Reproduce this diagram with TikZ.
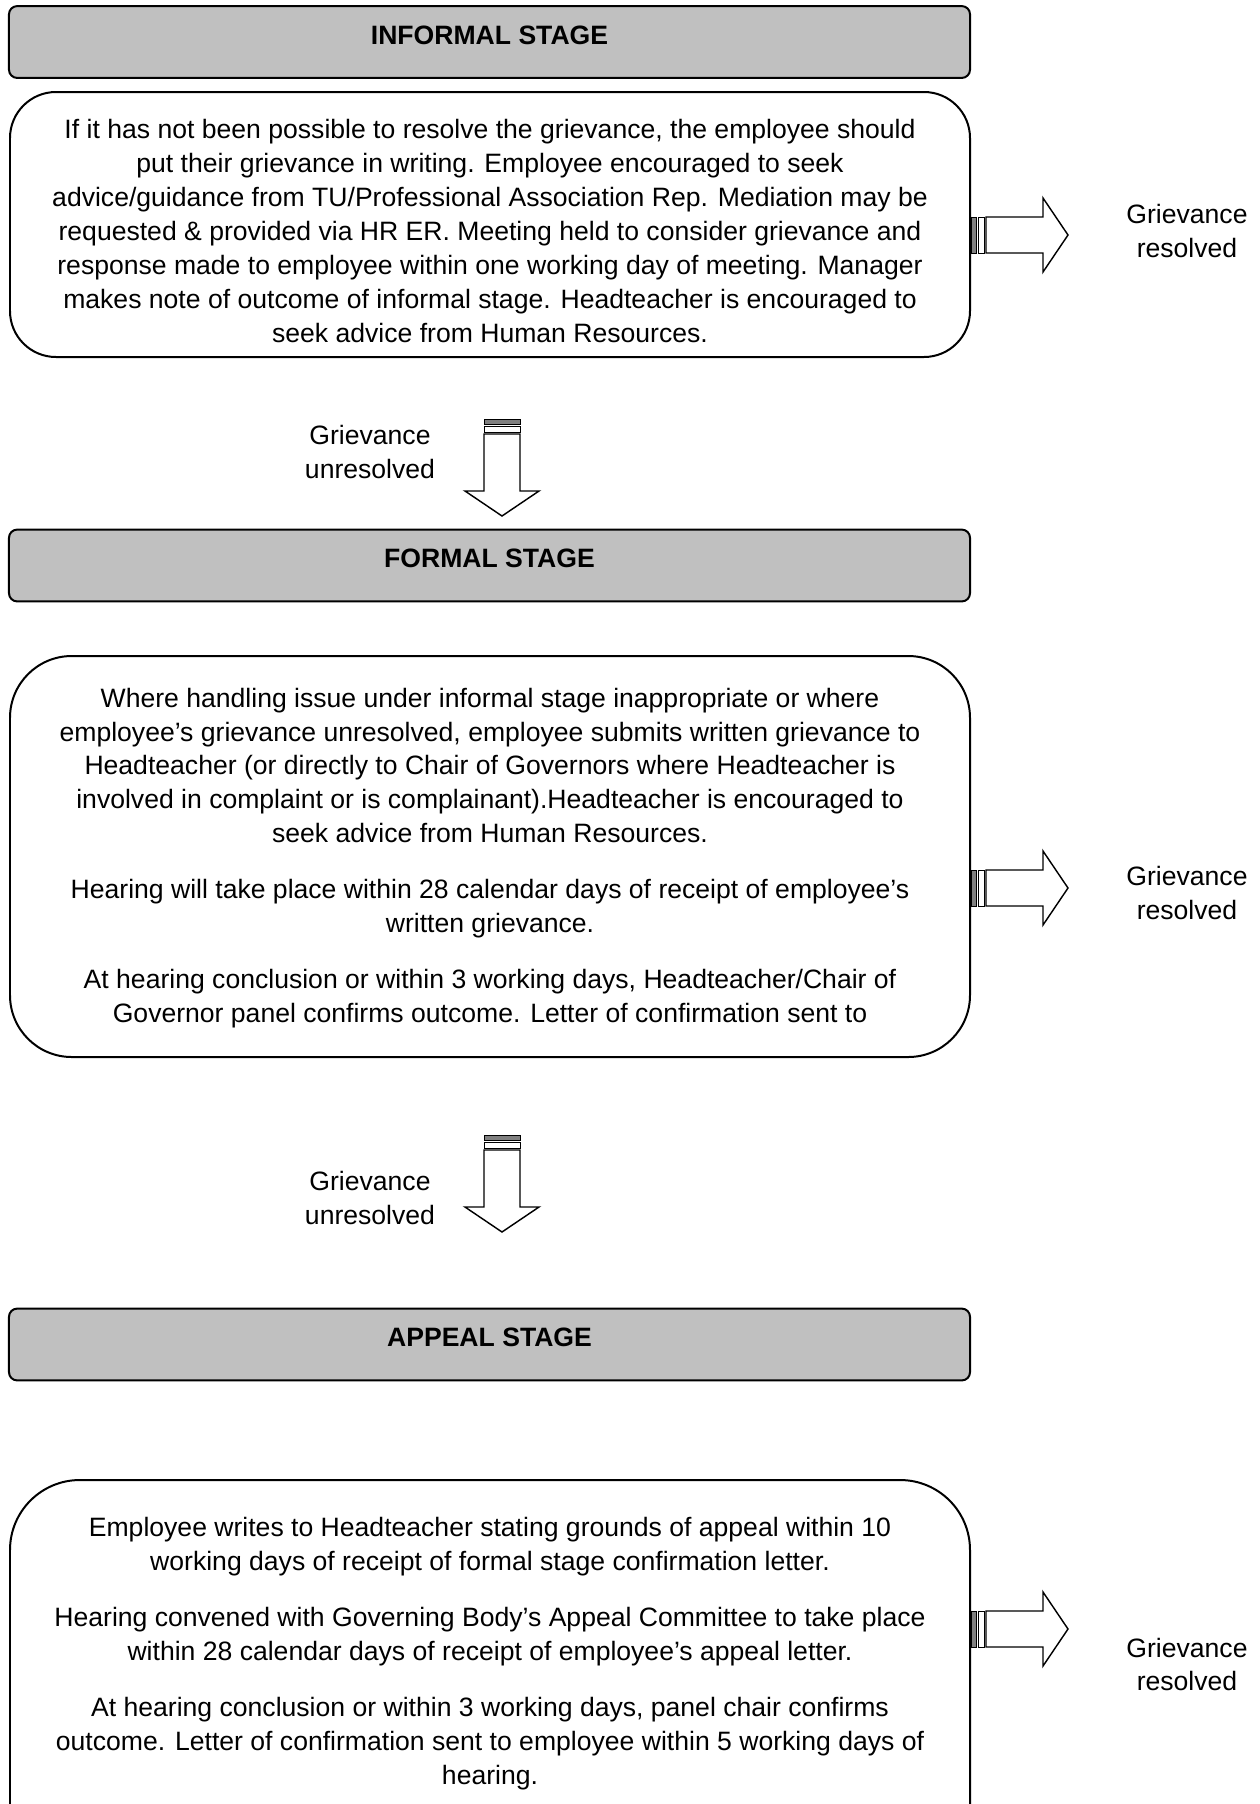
\documentclass[tikz,border=0pt]{standalone}
\usepackage{fontspec}
\setmainfont{Liberation Sans}
\usepackage{tikz}
\usetikzlibrary{positioning}

\definecolor{headgray}{RGB}{192,192,192}
\definecolor{stripegray}{RGB}{128,128,128}

\tikzset{
  stagehead/.style={draw, fill=headgray, line width=0.9pt, rounded corners=0.13cm,
    minimum width=15.25cm, minimum height=1.14cm, inner sep=0pt, text depth=6.4pt,
    font=\bfseries\fontsize{12}{15.3}\selectfont},
  boxline/.style={line width=0.9pt},
  stagetext/.style={align=center, inner sep=0pt, font=\fontsize{12}{15.3}\selectfont},
  outcome/.style={align=center, font=\fontsize{12}{15.3}\selectfont},
  blockline/.style={line width=0.65pt, line join=miter},
}

% striped block arrow, drawn pointing right from #2 (rotate with #1)
\newcommand{\blockarrow}[2][0]{%
  \begin{scope}[shift={(#2)}, rotate=#1, blockline]
    \draw[fill=stripegray, line width=0.45pt] (0,-18) rectangle (5,18);
    \draw[fill=white, line width=0.45pt] (7,-18) rectangle (13,18);
    \draw[fill=white] (15,-18) -- (72,-18) -- (72,-37) -- (97,0) -- (72,37) -- (72,18) -- (15,18) -- cycle;
  \end{scope}}

\begin{document}
\begin{tikzpicture}[x=0.015873cm, y=-0.015873cm]
  \useasboundingbox (0,0) rectangle (1260,1804);
  \clip (0,0) rectangle (1260,1804);

  % informal stage
  \node[stagehead] (informalhead) at (489.5,42) {INFORMAL STAGE};
  \draw[boxline, rounded corners=0.73cm] (10,92) rectangle (970,357);
  \node[stagetext] (informal) at (490,231)
    {If it has not been possible to resolve the grievance, the employee should\\
     put their grievance in writing.  Employee encouraged to seek\\
     advice/guidance from TU/Professional Association Rep.  Mediation may be\\
     requested \& provided via HR ER.  Meeting held to consider grievance and\\
     response made to employee within one working day of meeting.  Manager\\
     makes note of outcome of informal stage. Headteacher is encouraged to\\
     seek advice from Human Resources.};
  \node[outcome] (res1) at (1187,231) {Grievance\\resolved};
  \coordinate (ra1) at (informalhead.east |- 0,235);
  \blockarrow{ra1}

  \node[outcome] (unres1) at (370,452) {Grievance\\unresolved};
  \coordinate (da1) at (502,419);
  \blockarrow[-90]{da1}

  % formal stage
  \node[stagehead] (formalhead) at (489.5,565.5) {FORMAL STAGE};
  \draw[boxline, rounded corners=0.98cm] (10,656) rectangle (970,1057);
  \node[stagetext] (formal) at (490,858)
    {Where handling issue under informal stage inappropriate or where\\
     employee’s grievance unresolved, employee submits written grievance to\\
     Headteacher (or directly to Chair of Governors where Headteacher is\\
     involved in complaint or is complainant).Headteacher is encouraged to\\
     seek advice from Human Resources.\\[10pt]
     Hearing will take place within 28 calendar days of receipt of employee’s\\
     written grievance.\\[10pt]
     At hearing conclusion or within 3 working days, Headteacher/Chair of\\
     Governor panel confirms outcome.  Letter of confirmation sent to};
  \node[outcome] (res2) at (1187,893) {Grievance\\resolved};
  \coordinate (ra2) at (formalhead.east |- 0,888);
  \blockarrow{ra2}

  \node[outcome] (unres2) at (370,1198) {Grievance\\unresolved};
  \coordinate (da2) at (502,1135);
  \blockarrow[-90]{da2}

  % appeal stage
  \node[stagehead] (appealhead) at (489.5,1344.5) {APPEAL STAGE};
  \draw[boxline, rounded corners=1.11cm] (10,1480) rectangle (970,1900);
  \node[stagetext] (appeal) at (490,1653.5)
    {Employee writes to Headteacher stating grounds of appeal within 10\\
     working days of receipt of formal stage confirmation letter.\\[10pt]
     Hearing convened with Governing Body’s Appeal Committee to take place\\
     within 28 calendar days of receipt of employee’s appeal letter.\\[10pt]
     At hearing conclusion or within 3 working days, panel chair confirms\\
     outcome.  Letter of confirmation sent to employee within 5 working days of\\
     hearing.};
  \node[outcome] (res3) at (1187,1664.5) {Grievance\\resolved};
  \coordinate (ra3) at (appealhead.east |- 0,1629);
  \blockarrow{ra3}
\end{tikzpicture}
\end{document}
